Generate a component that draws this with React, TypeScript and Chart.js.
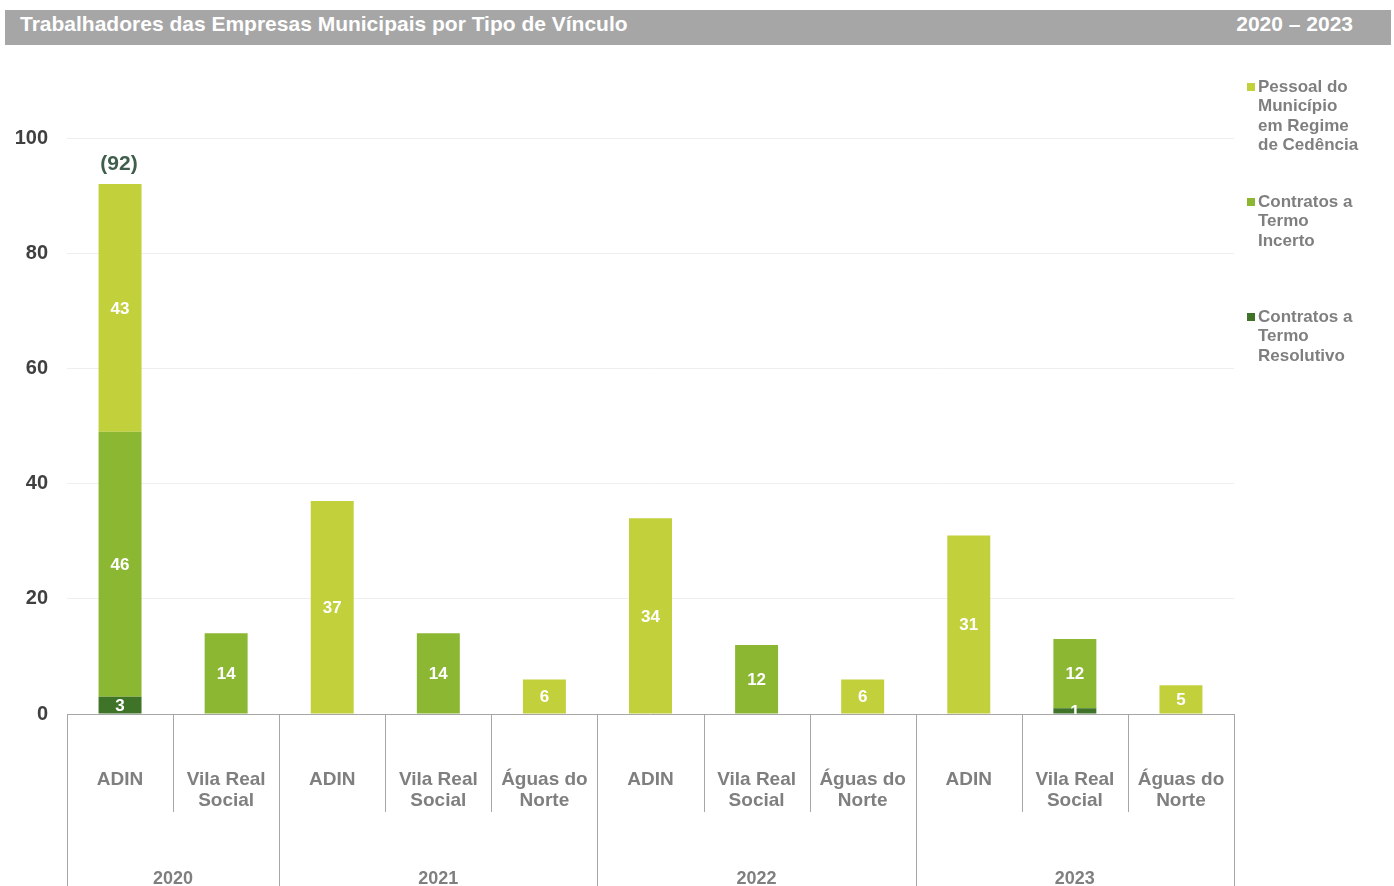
import React, { useEffect, useRef } from "react";
import { Chart, registerables } from "chart.js";

Chart.register(...registerables);

const categories: string[][] = [
  ["ADIN"], ["Vila Real", "Social"],
  ["ADIN"], ["Vila Real", "Social"], ["Águas do", "Norte"],
  ["ADIN"], ["Vila Real", "Social"], ["Águas do", "Norte"],
  ["ADIN"], ["Vila Real", "Social"], ["Águas do", "Norte"],
];
const years = ["2020", "2021", "2022", "2023"];
const yearSpans = [2, 3, 3, 3];

const resolutivo = [3, 0, 0, 0, 0, 0, 0, 0, 0, 1, 0];
const incerto = [46, 14, 0, 14, 0, 0, 12, 0, 0, 12, 0];
const cedencia = [43, 0, 37, 0, 6, 34, 0, 6, 31, 0, 5];

const legendLines: string[][] = [
  ["Pessoal do", "Município", "em Regime", "de Cedência"],
  ["Contratos a", "Termo", "Incerto"],
  ["Contratos a", "Termo", "Resolutivo"],
];
const colors = ["#c2d03b", "#8bb733", "#3e7328"];
const totalLabelIndex = [0];
const yTicks = [0, 20, 40, 60, 80, 100];

const FONT = "'Liberation Sans', Arial, sans-serif";

const customPlugin = {
  id: "custom",
  afterDatasetsDraw(chart: any) {
    const ctx = chart.ctx;
    const area = chart.chartArea;
    const xs = chart.scales.x;
    // data labels
    ctx.save();
    ctx.font = `bold 17px ${FONT}`;
    ctx.fillStyle = "#ffffff";
    ctx.textAlign = "center";
    ctx.textBaseline = "middle";
    chart.data.datasets.forEach((ds: any, di: number) => {
      const meta = chart.getDatasetMeta(di);
      meta.data.forEach((el: any, i: number) => {
        const v = ds.data[i];
        if (!v) return;
        ctx.fillText(String(v), el.x, (el.y + el.base) / 2 + 1);
      });
    });
    // total label
    ctx.font = `bold 21px ${FONT}`;
    ctx.fillStyle = "#3f5f4c";
    totalLabelIndex.forEach((i) => {
      const total = resolutivo[i] + incerto[i] + cedencia[i];
      const y = chart.scales.y.getPixelForValue(total);
      ctx.fillText(`(${total})`, xs.getPixelForValue(i) - 1, y - 20);
    });
    ctx.restore();

    // category axis
    ctx.save();
    ctx.strokeStyle = "#a6a6a6";
    ctx.lineWidth = 1;
    ctx.beginPath();
    ctx.moveTo(area.left, Math.round(area.bottom) + 0.5);
    ctx.lineTo(area.right, Math.round(area.bottom) + 0.5);
    ctx.stroke();
    const n = categories.length;
    const bounds: number[] = [];
    for (let i = 0; i <= n; i++) {
      if (i === 0) bounds.push(area.left);
      else if (i === n) bounds.push(area.right);
      else bounds.push((xs.getPixelForValue(i - 1) + xs.getPixelForValue(i)) / 2);
    }
    const groupEdges = new Set<number>();
    let acc = 0;
    groupEdges.add(0);
    yearSpans.forEach((s) => { acc += s; groupEdges.add(acc); });
    bounds.forEach((bx, i) => {
      const x = Math.round(bx) + 0.5;
      ctx.beginPath();
      ctx.moveTo(x, area.bottom);
      ctx.lineTo(x, groupEdges.has(i) ? chart.height : area.bottom + 98);
      ctx.stroke();
    });
    ctx.font = `bold 19px ${FONT}`;
    ctx.fillStyle = "#7f7f7f";
    ctx.textAlign = "center";
    ctx.textBaseline = "middle";
    categories.forEach((lines, i) => {
      const cx = xs.getPixelForValue(i);
      lines.forEach((t, j) => ctx.fillText(t, cx, area.bottom + 66 + j * 21));
    });
    ctx.font = `bold 18px ${FONT}`;
    let start = 0;
    years.forEach((yr, g) => {
      const end = start + yearSpans[g];
      const cx = (bounds[start] + bounds[end]) / 2;
      ctx.fillText(yr, cx, area.bottom + 165);
      start = end;
    });

    // legend
    ctx.textAlign = "left";
    ctx.font = `bold 17px ${FONT}`;
    legendLines.forEach((lines, k) => {
      const top = 87 + k * 115;
      ctx.fillStyle = colors[k];
      ctx.fillRect(1247, top - 4, 8, 8);
      ctx.fillStyle = "#7f7f7f";
      lines.forEach((t, j) => ctx.fillText(t, 1258, top + j * 19.6));
    });
    ctx.restore();
  },
};

export default function App() {
  const ref = useRef<HTMLCanvasElement>(null);
  useEffect(() => {
    if (!ref.current) return;
    const chart = new Chart(ref.current, {
      type: "bar",
      data: {
        labels: categories.map((c) => c.join(" ")),
        datasets: [
          { label: legendLines[2].join(" "), data: resolutivo, backgroundColor: colors[2] },
          { label: legendLines[1].join(" "), data: incerto, backgroundColor: colors[1] },
          { label: legendLines[0].join(" "), data: cedencia, backgroundColor: colors[0] },
        ],
      },
      options: {
        responsive: false,
        animation: false,
        layout: { padding: { left: 0, top: 138, right: 160, bottom: 172 } },
        datasets: { bar: { barPercentage: 0.405, categoryPercentage: 1 } },
        plugins: { legend: { display: false }, tooltip: { enabled: false }, title: { display: false } },
        scales: {
          x: { stacked: true, display: false },
          y: {
            stacked: true,
            min: 0,
            max: 100,
            border: { display: false },
            grid: { color: "#eeeeee", drawTicks: false },
            afterBuildTicks: (s: any) => { s.ticks = yTicks.map((v) => ({ value: v })); },
            afterFit: (s: any) => { s.width = 67; },
            ticks: {
              padding: 19,
              color: "#404040",
              font: { family: FONT, size: 20, weight: "bold" },
            },
          },
        },
      },
      plugins: [customPlugin],
    } as any);
    return () => chart.destroy();
  }, []);

  return (
    <div style={{ position: "fixed", left: 0, top: 0, width: 1394, height: 886, background: "#fff" }}>
      <div
        style={{
          position: "absolute", left: 5, top: 10, width: 1386, height: 35, background: "#a6a6a6",
          color: "#fff", fontFamily: FONT, fontWeight: "bold", fontSize: 21, lineHeight: "27px",
        }}
      >
        <span style={{ position: "absolute", left: 15 }}>Trabalhadores das Empresas Municipais por Tipo de Vínculo</span>
        <span style={{ position: "absolute", right: 38 }}>2020 – 2023</span>
      </div>
      <canvas ref={ref} width={1394} height={886} style={{ position: "absolute", left: 0, top: 0 }} />
    </div>
  );
}
